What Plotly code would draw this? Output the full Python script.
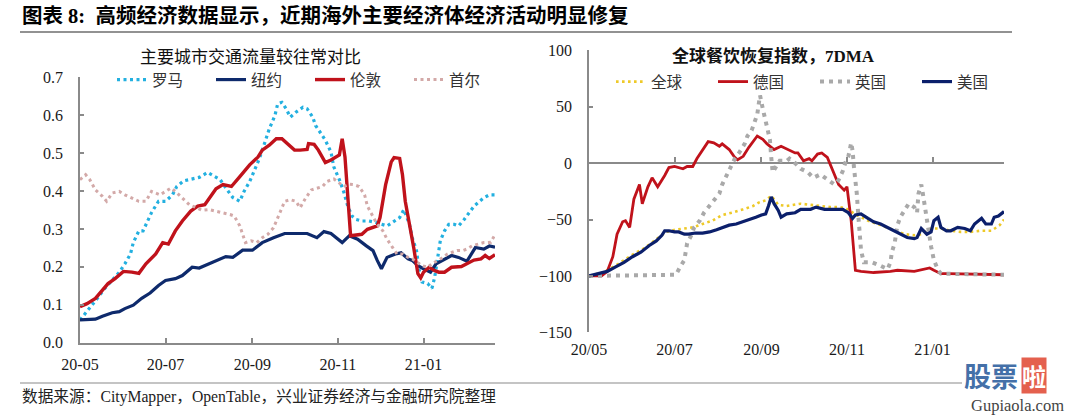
import pandas as pd
import plotly.graph_objects as go

W, H = 1080, 417
BASE = pd.Timestamp("2020-05-01")

rome_days = [0, 6, 12, 17, 22, 28, 32, 36, 38, 42, 45, 48, 51, 56, 61, 66, 69, 74, 80, 85,
             91, 96, 100, 104, 109, 114, 117, 121, 124, 128, 132, 135, 139, 141, 144, 147, 150, 154, 159, 162,
             166, 168, 172, 175, 179, 181, 185, 188, 191, 194, 197, 201, 206, 211, 219, 228, 231, 235, 237, 240,
             242, 244, 248, 251, 253, 255, 257, 260, 263, 267, 270, 274, 278, 281, 285, 288, 292, 296]
rome_vals = [0.06, 0.086, 0.115, 0.14, 0.16, 0.186, 0.208, 0.234, 0.264, 0.295,
             0.295, 0.317, 0.343, 0.373, 0.373, 0.39, 0.412, 0.427, 0.432, 0.436,
             0.449, 0.438, 0.43, 0.408, 0.383, 0.373, 0.399, 0.425, 0.451, 0.486,
             0.53, 0.564, 0.599, 0.63, 0.634, 0.617, 0.595, 0.608, 0.621, 0.617,
             0.595, 0.573, 0.551, 0.534, 0.503, 0.464, 0.43, 0.399, 0.36, 0.334,
             0.325, 0.321, 0.321, 0.317, 0.308, 0.33, 0.351, 0.312, 0.277, 0.243,
             0.19, 0.16, 0.156, 0.143, 0.173, 0.225, 0.269, 0.295, 0.312, 0.312,
             0.308, 0.325, 0.347, 0.36, 0.373, 0.382, 0.39, 0.39]

ny_days = [0, 6, 11, 16, 23, 28, 32, 38, 44, 50, 56, 61, 68, 73, 80, 85, 92, 99, 104, 109,
           116, 123, 130, 138, 146, 155, 162, 169, 174, 179, 187, 192, 198, 204, 209, 212, 215, 219, 225, 229,
           234, 237, 241, 245, 250, 254, 260, 265, 270, 276, 282, 288, 292, 296]
ny_vals = [0.06, 0.062, 0.062, 0.07, 0.079, 0.082, 0.09, 0.099, 0.117, 0.131,
           0.151, 0.164, 0.169, 0.177, 0.199, 0.197, 0.208, 0.221, 0.227, 0.225,
           0.244, 0.244, 0.264, 0.277, 0.288, 0.288, 0.288, 0.277, 0.293, 0.288,
           0.264, 0.282, 0.273, 0.256, 0.243, 0.217, 0.195, 0.225, 0.234, 0.237,
           0.221, 0.217, 0.203, 0.195, 0.186, 0.208, 0.221, 0.23, 0.225, 0.215,
           0.251, 0.247, 0.255, 0.252]

london_days = [0, 5, 11, 20, 25, 31, 37, 42, 47, 54, 59, 63, 68, 73, 79, 84, 89, 97, 102, 108,
               114, 121, 127, 130, 135, 140, 144, 148, 153, 157, 162, 163, 167, 170, 175, 179, 185, 187, 189, 193,
               201, 205, 212, 214, 218, 222, 224, 228, 230, 232, 236, 238, 241, 243, 245, 249, 253, 256, 260, 265,
               272, 276, 281, 286, 289, 292, 296]
london_vals = [0.095, 0.103, 0.117, 0.156, 0.169, 0.188, 0.186, 0.183, 0.208, 0.234,
               0.264, 0.26, 0.295, 0.321, 0.347, 0.36, 0.364, 0.406, 0.417, 0.412,
               0.438, 0.469, 0.49, 0.508, 0.521, 0.538, 0.538, 0.525, 0.508, 0.508,
               0.51, 0.525, 0.523, 0.508, 0.475, 0.482, 0.495, 0.538, 0.49, 0.282,
               0.286, 0.299, 0.308, 0.33, 0.417, 0.477, 0.488, 0.486, 0.443, 0.373,
               0.295, 0.251, 0.182, 0.171, 0.186, 0.199, 0.19, 0.186, 0.186, 0.199,
               0.201, 0.208, 0.218, 0.221, 0.23, 0.222, 0.232]

seoul_days = [0, 4, 7, 11, 16, 19, 23, 28, 32, 37, 42, 47, 51, 57, 61, 65, 68, 73, 78, 83,
              87, 92, 97, 102, 107, 110, 114, 116, 118, 122, 126, 130, 134, 138, 141, 146, 150, 154, 157, 161,
              165, 169, 173, 176, 181, 185, 188, 192, 195, 199, 203, 205, 209, 212, 216, 219, 223, 226, 230, 234,
              237, 241, 244, 248, 251, 255, 259, 262, 266, 269, 273, 276, 280, 284, 288, 293, 296]
seoul_vals = [0.43, 0.443, 0.43, 0.403, 0.386, 0.373, 0.395, 0.399, 0.39, 0.382,
              0.373, 0.373, 0.399, 0.39, 0.399, 0.408, 0.399, 0.382, 0.364, 0.356,
              0.349, 0.351, 0.347, 0.343, 0.338, 0.334, 0.308, 0.286, 0.264, 0.269,
              0.264, 0.277, 0.286, 0.303, 0.33, 0.373, 0.377, 0.373, 0.356, 0.382,
              0.403, 0.408, 0.412, 0.425, 0.432, 0.421, 0.412, 0.418, 0.417, 0.412,
              0.39, 0.36, 0.334, 0.312, 0.295, 0.273, 0.251, 0.234, 0.234, 0.225,
              0.221, 0.212, 0.203, 0.199, 0.208, 0.217, 0.225, 0.234, 0.238, 0.243,
              0.243, 0.247, 0.256, 0.26, 0.264, 0.265, 0.285]

global_days = [0, 10, 20, 30, 40, 50, 55, 62, 70, 74, 81, 88, 95, 102, 110, 117, 121, 126, 130, 135,
               141, 147, 151, 158, 165, 172, 179, 183, 191, 199, 208, 218, 225, 232, 237, 244, 251, 258, 265, 272,
               279, 287, 293, 296]
global_vals = [-100, -97, -90, -82, -75, -66, -61, -59, -58, -57,
               -54, -51, -46, -44, -41, -38, -35, -33, -29, -37,
               -38, -37, -36, -37, -38, -39, -39, -40, -46, -51,
               -55, -60, -63, -64, -63, -58, -58, -60, -61, -61,
               -60, -60, -55, -50]

germany_days = [0, 9, 13, 17, 20, 24, 26, 29, 32, 36, 38, 42, 45, 49, 54, 57, 61, 64, 67, 70,
                74, 77, 81, 85, 89, 93, 95, 100, 104, 106, 110, 114, 120, 124, 127, 132, 137, 142, 147, 149,
                153, 157, 159, 163, 166, 170, 174, 178, 182, 184, 187, 190, 194, 203, 215, 220, 232, 239, 243, 246,
                251, 256, 296]
germany_vals = [-100, -100, -96, -83, -63, -52, -51, -57, -32, -19,
                -36, -21, -13, -21, -11, -4, -3, -4, -5, -3,
                -3, 4, 12, 19, 18, 15, 17, 12, 5, 3,
                6, 14, 24, 21, 17, 12, 15, 12, 9, 9,
                2, 4, 2, 8, 9, 5, -7, -19, -24, -21,
                -51, -95, -96, -97, -96, -95, -96, -94, -93, -95,
                -98, -98, -99]

uk_days = [0, 62, 65, 68, 70, 73, 75, 79, 82, 86, 89, 93, 95, 98, 101, 104, 107, 111, 113, 116,
           118, 120, 121, 122, 124, 126, 129, 130, 131, 133, 136, 141, 143, 147, 151, 156, 160, 165, 170, 175,
           178, 181, 183, 185, 187, 188, 189, 190, 191, 192, 193, 194, 196, 202, 208, 213, 215, 216, 218, 220,
           222, 225, 228, 232, 234, 235, 237, 238, 239, 240, 243, 244, 246, 249, 251, 296]
uk_vals = [-100, -99, -92, -86, -71, -64, -57, -51, -44, -38,
           -33, -27, -19, -11, -4, 4, 9, 17, 24, 29,
           36, 43, 52, 60, 48, 36, 21, 5, -8, -4,
           2, 2, 4, 0, -5, -8, -13, -10, -14, -19,
           -15, -7, 1, 6, 18, 11, -4, -13, -27, -45,
           -66, -77, -88, -88, -91, -94, -88, -79, -71, -55,
           -48, -42, -36, -39, -44, -27, -19, -26, -35, -44,
           -66, -74, -86, -95, -98, -99]

us_days = [0, 7, 13, 19, 25, 31, 37, 43, 48, 52, 54, 57, 61, 64, 68, 71, 76, 81, 86, 91,
           95, 100, 105, 110, 114, 119, 123, 126, 128, 130, 132, 135, 137, 141, 147, 151, 158, 162, 168, 175,
           181, 185, 188, 190, 194, 199, 203, 208, 213, 218, 222, 227, 232, 234, 237, 239, 241, 244, 246, 249,
           251, 255, 258, 263, 268, 272, 275, 280, 283, 287, 289, 292, 296]
us_vals = [-100, -98, -96, -92, -88, -83, -79, -73, -69, -64,
           -60, -60, -61, -61, -63, -63, -62, -62, -61, -59,
           -57, -55, -54, -52, -50, -48, -46, -45, -38, -30,
           -36, -42, -48, -45, -44, -41, -41, -39, -41, -41,
           -41, -44, -49, -46, -45, -49, -52, -54, -57, -60,
           -63, -66, -67, -66, -58, -61, -63, -61, -51, -48,
           -57, -60, -60, -57, -58, -60, -54, -49, -54, -54,
           -48, -47, -43]

left_title = "主要城市交通流量较往常对比"
right_title = "全球餐饮恢复指数，7DMA"
main_title = "图表 8:  高频经济数据显示，近期海外主要经济体经济活动明显修复"
source_text = "数据来源：CityMapper，OpenTable，兴业证券经济与金融研究院整理"
x_start, x_end = "2020-05-01", "2021-02-21"


def dates(days):
    return BASE + pd.to_timedelta(days, unit="D")


def px_x(p):
    return p / W


def px_y(p):
    return 1 - p / H


FONT = "Liberation Serif, Noto Sans CJK SC, serif"
AX = "#8a8a8a"

fig = go.Figure()

fig.add_trace(go.Scatter(x=dates(rome_days), y=rome_vals, name="罗马", mode="lines",
                         line=dict(color="#23B0E0", width=3.2, dash="3px,3.5px"), legend="legend"))
fig.add_trace(go.Scatter(x=dates(ny_days), y=ny_vals, name="纽约", mode="lines",
                         line=dict(color="#0E2A6C", width=3.2), legend="legend"))
fig.add_trace(go.Scatter(x=dates(london_days), y=london_vals, name="伦敦", mode="lines",
                         line=dict(color="#C0121B", width=3.4), legend="legend"))
fig.add_trace(go.Scatter(x=dates(seoul_days), y=seoul_vals, name="首尔", mode="lines",
                         line=dict(color="#D3A9A8", width=3, dash="3px,3.5px"), legend="legend"))

fig.add_trace(go.Scatter(x=dates(global_days), y=global_vals, name="全球", mode="lines",
                         line=dict(color="#EEC928", width=2.6, dash="2.6px,3.4px"),
                         xaxis="x2", yaxis="y2", legend="legend2"))
fig.add_trace(go.Scatter(x=dates(germany_days), y=germany_vals, name="德国", mode="lines",
                         line=dict(color="#C0121B", width=2.8),
                         xaxis="x2", yaxis="y2", legend="legend2"))
fig.add_trace(go.Scatter(x=dates(uk_days), y=uk_vals, name="英国", mode="lines",
                         line=dict(color="#A9A9A9", width=4, dash="4px,5px"),
                         xaxis="x2", yaxis="y2", legend="legend2"))
fig.add_trace(go.Scatter(x=dates(us_days), y=us_vals, name="美国", mode="lines",
                         line=dict(color="#0B1F6B", width=3.2),
                         xaxis="x2", yaxis="y2", legend="legend2"))
# empty helper trace so the tick-only axis sitting on the zero line is drawn
fig.add_trace(go.Scatter(x=[], y=[], xaxis="x3", yaxis="y2", showlegend=False, hoverinfo="skip"))

tickfont = dict(family=FONT, size=16, color="#1a1a1a")
common_x = dict(type="date", range=[x_start, x_end], tick0="2020-05-01", dtick="M2",
                showgrid=False, zeroline=False, tickfont=tickfont, ticklabelstandoff=6,
                automargin=False)

fig.update_layout(
    width=W, height=H, autosize=False, margin=dict(l=0, r=0, t=0, b=0, pad=0, autoexpand=False),
    paper_bgcolor="white", plot_bgcolor="white",
    font=dict(family=FONT, size=15, color="#1a1a1a"),
    xaxis=dict(common_x, domain=[px_x(80), px_x(495)], anchor="y", tickformat="%y-%m",
               showline=True, linecolor=AX, linewidth=1.5,
               ticks="inside", ticklen=5, tickwidth=1.5, tickcolor=AX),
    yaxis=dict(domain=[px_y(342.7), px_y(77.3)], anchor="x", range=[0, 0.7], dtick=0.1,
               tickformat=".1f", showgrid=False, zeroline=False, showline=True,
               linecolor=AX, linewidth=1.5, ticks="inside", ticklen=4, tickwidth=1.5,
               tickcolor=AX, tickfont=tickfont, ticklabelstandoff=12, automargin=False),
    xaxis2=dict(common_x, domain=[px_x(589), px_x(1004)], anchor="y2", tickformat="%y/%m",
                showline=False, ticks=""),
    xaxis3=dict(type="date", range=[x_start, x_end], tick0="2020-05-01", dtick="M2",
                overlaying="x2", anchor="free", position=px_y(162.3), side="bottom",
                showline=False, showgrid=False, zeroline=False, showticklabels=False,
                ticks="inside", ticklen=5, tickwidth=1.5, tickcolor=AX, automargin=False),
    yaxis2=dict(domain=[px_y(332.3), px_y(50.3)], anchor="x2", range=[-150, 100], dtick=50,
                showgrid=False, zeroline=True, zerolinecolor=AX, zerolinewidth=1.5,
                showline=True, linecolor=AX, linewidth=1.5, ticks="inside", ticklen=4,
                tickwidth=1.5, tickcolor=AX, tickfont=tickfont, ticklabelstandoff=12,
                automargin=False),
    legend=dict(orientation="h", x=px_x(112), y=px_y(80), xanchor="left", yanchor="middle",
                bgcolor="rgba(0,0,0,0)", font=dict(family=FONT, size=15.5, color="#333"),
                entrywidth=54, entrywidthmode="pixels", itemclick=False),
    legend2=dict(orientation="h", x=px_x(611), y=px_y(82), xanchor="left", yanchor="middle",
                 bgcolor="rgba(0,0,0,0)", font=dict(family=FONT, size=15.5, color="#333"),
                 entrywidth=57, entrywidthmode="pixels", itemclick=False),
    showlegend=True,
)

ann = []
ann.append(dict(text="<b>" + main_title + "</b>", x=px_x(20), y=px_y(16), xanchor="left",
                yanchor="middle", font=dict(family=FONT, size=20.5, color="#000")))
ann.append(dict(text=left_title, x=px_x(250), y=px_y(57), xanchor="center", yanchor="middle",
                font=dict(family=FONT, size=17, color="#111")))
ann.append(dict(text="<b>" + right_title + "</b>", x=px_x(773), y=px_y(56), xanchor="center",
                yanchor="middle", font=dict(family=FONT, size=17, color="#111")))
ann.append(dict(text=source_text, x=px_x(20), y=px_y(396), xanchor="left", yanchor="middle",
                font=dict(family=FONT, size=15.7, color="#222")))
ann.append(dict(text="<b>股票</b>", x=px_x(991), y=px_y(375), xanchor="center", yanchor="middle",
                font=dict(family="Noto Sans CJK SC", size=27, color="#4470A8")))
ann.append(dict(text="<b>啦</b>", x=px_x(1034), y=px_y(375), xanchor="center", yanchor="middle",
                bgcolor="#E4604E", borderpad=0,
                font=dict(family="Noto Sans CJK SC", size=24, color="white")))
ann.append(dict(text="Gupiaola.com", x=px_x(1018), y=px_y(405), xanchor="center", yanchor="middle",
                font=dict(family=FONT, size=16.5, color="#444")))
for a in ann:
    a.update(xref="paper", yref="paper", showarrow=False)
fig.update_layout(annotations=ann)

fig.update_layout(shapes=[
    dict(type="line", xref="paper", yref="paper", x0=px_x(20), x1=px_x(1012),
         y0=px_y(32), y1=px_y(32), line=dict(color="#6e6e6e", width=1.5)),
    dict(type="line", xref="paper", yref="paper", x0=px_x(20), x1=px_x(962),
         y0=px_y(383), y1=px_y(383), line=dict(color="#8a8a8a", width=1.2)),
])

post = ("document.documentElement.style.margin='0';document.body.style.margin='0';"
        "document.body.style.padding='0';document.body.style.overflow='hidden';"
        "document.documentElement.style.overflow='hidden';"
        "var d=document.getElementById('{plot_id}');d.style.position='fixed';"
        "d.style.left='0px';d.style.top='0px';")
fig.write_html("out.html", config={"displayModeBar": False, "responsive": False},
               post_script=post)
